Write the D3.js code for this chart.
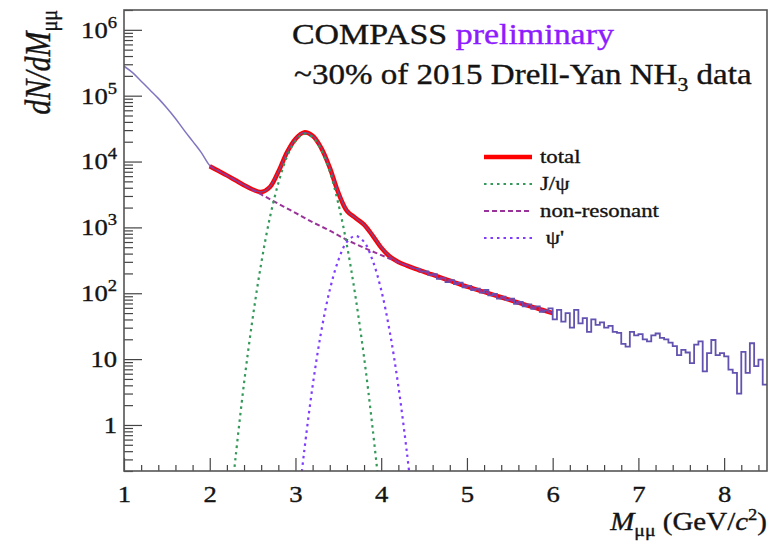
<!DOCTYPE html>
<html>
<head>
<meta charset="utf-8">
<script src="https://cdn.jsdelivr.net/npm/d3@7"></script>
<style>
  body { margin: 0; background: #fff; }
  svg { display: block; }
  text { font-family: "Liberation Serif", "Times New Roman", serif; fill: #141414; stroke: #141414; stroke-width: 0.35px; }
</style>
</head>
<body>
<div id="chart"></div>
<script>
// measured data, smooth low-mass part (GeV/c^2, dN/dM)
const smoothMass = [1.0, 1.1, 1.2, 1.3, 1.4, 1.5, 1.6, 1.7, 1.8, 1.9,
  2.0, 2.1, 2.2, 2.3, 2.4, 2.5, 2.6, 2.7, 2.8, 2.9, 3.0, 3.1, 3.2, 3.3, 3.4,
  3.5, 3.6, 3.7, 3.8, 3.9, 4.0, 4.1, 4.2, 4.3, 4.4];
const smoothCounts = [280000, 224000, 166000, 123000, 91000, 65000, 45000, 30000, 20400, 13800,
  8700, 7200, 6100, 5200, 4400, 3750, 3450, 4100, 7000, 13600, 22000, 27500, 24500, 16200, 8100,
  3400, 1800, 1400, 1100, 760, 500, 365, 300, 265, 235];

// measured data, binned high-mass part (0.05 GeV bins from 4.4)
const binStart = 4.4;
const binWidth = 0.05;
const binCounts = [234, 214, 214, 191, 195, 166, 170, 148, 158, 138,
  145, 123, 129, 112, 117, 102, 112, 93, 98, 83,
  89, 79, 83, 69, 74, 63, 68, 58, 63, 52,
  55, 59, 40, 56, 37, 50, 30, 56, 35, 42,
  26, 40, 33, 36, 30, 32, 26, 25, 17, 15.5,
  26, 23, 24, 20, 18.6, 23, 24.5, 21, 20, 17.8,
  15.8, 11.5, 13.8, 12.6, 8.7, 16.6, 18.6, 6.5, 12.3, 19.5,
  11.5, 12.3, 11, 6.9, 6.2, 3.0, 12.9, 6.2, 17.4, 7.8,
  9.8, 4.1];

// fit: total
const totalMass = [2.0, 2.1, 2.2, 2.3, 2.4, 2.5, 2.6, 2.7, 2.8, 2.9, 3.0, 3.1, 3.2, 3.3, 3.4,
  3.5, 3.6, 3.7, 3.8, 3.9, 4.0, 4.1, 4.2, 4.3, 4.4, 4.6, 4.8, 5.0, 5.2, 5.4, 5.6, 5.8, 6.0];
const totalValues = [8510, 7240, 6170, 5190, 4374, 3761, 3442, 4070, 6970, 13700, 22060, 27710, 24600, 16160, 8083,
  3365, 1786, 1392, 1104, 749, 492, 361, 299, 263, 234, 191, 155, 126, 105, 87, 72, 60, 50];

// fit: J/psi
const jpsiMass = [2.25, 2.3, 2.4, 2.5, 2.6, 2.7, 2.8, 2.9, 3.0, 3.1, 3.2, 3.3, 3.4, 3.5, 3.6, 3.7, 3.8, 3.9, 4.0];
const jpsiValues = [0.074, 0.31, 4.3, 41, 282, 1380, 4680, 11750, 20400, 26300, 23400, 15100, 7080, 2290, 537, 89, 10.7, 0.89, 0.055];

// fit: non-resonant
const nonresMass = [2.0, 2.2, 2.4, 2.6, 2.8, 3.0, 3.2, 3.4, 3.6, 3.8, 4.0, 4.2, 4.4, 4.6, 4.8, 5.0, 5.2, 5.4, 5.6, 5.8, 6.0];
const nonresValues = [8510, 6170, 4370, 3160, 2290, 1660, 1200, 891, 646, 490, 380, 295, 234, 191, 155, 126, 105, 87, 72, 60, 50];

// fit: psi'
const psiMass = [3.05, 3.1, 3.2, 3.3, 3.4, 3.5, 3.6, 3.7, 3.8, 3.9, 4.0, 4.1, 4.2, 4.3, 4.35];
const psiValues = [0.10, 0.38, 3.9, 26, 112, 316, 603, 741, 603, 316, 112, 26, 3.9, 0.38, 0.10];

// axis ticks
const xMajorTicks = [1, 2, 3, 4, 5, 6, 7, 8];
const yMajorTicks = [1, 10, 100, 1e3, 1e4, 1e5, 1e6];
const legendLabels = ['total', 'J/\u03c8', 'non-resonant', ' \u03c8\''];

const width = 780;
const height = 546;
const frame = { left: 124, right: 767, top: 10, bottom: 471 };
const stretch = 1.16;

const colors = {
  data: '#6352b0',
  total: '#ff0000',
  jpsi: '#33995a',
  nonres: '#993399',
  psi: '#7f3cff',
  preliminary: '#8e1cff'
};

const svg = d3.select('#chart').append('svg')
  .attr('width', width)
  .attr('height', height);

svg.append('rect').attr('width', width).attr('height', height).attr('fill', '#fff');

const scaleX = d3.scaleLinear().domain([1, 8.5]).range([frame.left, frame.right]);
const scaleY = d3.scaleLog().domain([0.2, 2e6]).range([frame.bottom, frame.top]);

svg.append('clipPath').attr('id', 'plot-clip')
  .append('rect')
  .attr('x', frame.left).attr('y', frame.top)
  .attr('width', frame.right - frame.left)
  .attr('height', frame.bottom - frame.top);

const groupPlot = svg.append('g').attr('clip-path', 'url(#plot-clip)');

const lineSmooth = d3.line()
  .x(d => scaleX(d[0]))
  .y(d => scaleY(d[1]))
  .curve(d3.curveCatmullRom.alpha(0.5));

const lineStep = d3.line()
  .x(d => scaleX(d[0]))
  .y(d => scaleY(d[1]))
  .curve(d3.curveStepAfter);

const zip = (xs, ys) => xs.map((x, i) => [x, ys[i]]);

// total fit (under data)
groupPlot.append('path')
  .attr('d', lineSmooth(zip(totalMass, totalValues)))
  .attr('fill', 'none')
  .attr('stroke', colors.total)
  .attr('stroke-width', 4.5)
  .attr('stroke-linejoin', 'round');

// data
groupPlot.append('path')
  .attr('d', d3.line().x(d => scaleX(d[0])).y(d => scaleY(d[1])).curve(d3.curveMonotoneX)(zip(smoothMass, smoothCounts)))
  .attr('fill', 'none')
  .attr('stroke', colors.data)
  .attr('stroke-opacity', 0.8)
  .attr('stroke-width', 1.5);

const binPoints = binCounts.map((c, i) => [binStart + i * binWidth, c]);
binPoints.push([binStart + binCounts.length * binWidth, binCounts[binCounts.length - 1]]);

groupPlot.append('path')
  .attr('d', lineStep(binPoints))
  .attr('fill', 'none')
  .attr('stroke', colors.data)
  .attr('stroke-width', 1.8);

// components
groupPlot.append('path')
  .attr('d', lineSmooth(zip(nonresMass, nonresValues)))
  .attr('fill', 'none')
  .attr('stroke', colors.nonres)
  .attr('stroke-width', 2)
  .attr('stroke-dasharray', '5,3');

groupPlot.append('path')
  .attr('d', lineSmooth(zip(jpsiMass, jpsiValues)))
  .attr('fill', 'none')
  .attr('stroke', colors.jpsi)
  .attr('stroke-width', 2.2)
  .attr('stroke-dasharray', '2.5,4');

groupPlot.append('path')
  .attr('d', lineSmooth(zip(psiMass, psiValues)))
  .attr('fill', 'none')
  .attr('stroke', colors.psi)
  .attr('stroke-width', 2.2)
  .attr('stroke-dasharray', '2.5,4');

// axes
const styleAxis = g => {
  g.select('.domain').remove();
  g.selectAll('.tick line').attr('stroke', '#444').attr('stroke-width', 1.2);
  g.attr('font-family', null).attr('font-size', 23);
};

const xMinorTicks = d3.range(1, 8.5, 0.2).filter(v => Math.abs(v - Math.round(v)) > 1e-6);
const yMinorTicks = d3.range(-1, 7).flatMap(p => d3.range(2, 10).map(m => m * Math.pow(10, p)))
  .filter(v => v >= 0.2 && v <= 2e6);

svg.append('g')
  .attr('transform', `translate(0,${frame.bottom})`)
  .call(d3.axisBottom(scaleX).tickValues(xMinorTicks).tickSize(-6).tickFormat(''))
  .call(styleAxis);

const groupAxisX = svg.append('g')
  .attr('transform', `translate(0,${frame.bottom})`)
  .call(d3.axisBottom(scaleX).tickValues(xMajorTicks).tickSize(-13).tickPadding(15).tickFormat(d3.format('d')))
  .call(styleAxis);

groupAxisX.selectAll('.tick text')
  .attr('fill', '#141414')
  .attr('transform', `scale(${stretch},1)`);

svg.append('g')
  .attr('transform', `translate(${frame.left},0)`)
  .call(d3.axisLeft(scaleY).tickValues(yMinorTicks).tickSize(-9).tickFormat(''))
  .call(styleAxis);

const groupAxisY = svg.append('g')
  .attr('transform', `translate(${frame.left},0)`)
  .call(d3.axisLeft(scaleY).tickValues(yMajorTicks).tickSize(-18).tickPadding(6).tickFormat(''))
  .call(styleAxis);

groupAxisY.selectAll('.tick text')
  .attr('fill', '#141414')
  .attr('transform', `scale(${stretch},1)`)
  .each(function (d) {
    const t = d3.select(this);
    const p = Math.round(Math.log10(d));
    if (p < 2) {
      t.text(String(d));
    } else {
      t.append('tspan').text('10');
      t.append('tspan').attr('font-size', 16).attr('dy', -10).text(p);
    }
  });

// frame
svg.append('rect')
  .attr('x', frame.left).attr('y', frame.top)
  .attr('width', frame.right - frame.left)
  .attr('height', frame.bottom - frame.top)
  .attr('fill', 'none')
  .attr('stroke', '#555')
  .attr('stroke-width', 1.6);

// axis titles
const titleY = svg.append('text')
  .attr('transform', `translate(50,${frame.top}) rotate(-90) scale(1,${stretch})`)
  .attr('text-anchor', 'end')
  .style('font-size', '30px');
titleY.append('tspan').style('font-style', 'italic').text('dN/dM');
titleY.append('tspan').style('font-size', '20px').attr('dy', 6).text('\u03bc\u03bc');

const titleX = svg.append('text')
  .attr('transform', `translate(${frame.right},530) scale(${stretch},1)`)
  .attr('text-anchor', 'end')
  .style('font-size', '25px');
titleX.append('tspan').style('font-style', 'italic').text('M');
titleX.append('tspan').style('font-size', '17px').attr('dy', 6).text('\u03bc\u03bc');
titleX.append('tspan').attr('dy', -6).text(' (GeV/');
titleX.append('tspan').style('font-style', 'italic').text('c');
titleX.append('tspan').style('font-size', '16px').attr('dy', -10).text('2');
titleX.append('tspan').attr('dy', 10).text(')');

// header text
const header1 = svg.append('text')
  .attr('transform', `translate(292,44) scale(1.17,1)`)
  .style('font-size', '29px');
header1.append('tspan').text('COMPASS ');
header1.append('tspan')
  .style('fill', colors.preliminary)
  .style('stroke', colors.preliminary)
  .text('preliminary');

const header2 = svg.append('text')
  .attr('transform', `translate(294,84) scale(1.14,1)`)
  .style('font-size', '29px');
header2.append('tspan').text('~30% of 2015 Drell-Yan NH');
header2.append('tspan').style('font-size', '19px').attr('dy', 7).text('3');
header2.append('tspan').attr('dy', -7).text(' data');

// legend
const legendRows = [
  { color: colors.total, width: 4.5, dash: null },
  { color: colors.jpsi, width: 2.2, dash: '2.5,4' },
  { color: colors.nonres, width: 2, dash: '5,3' },
  { color: colors.psi, width: 2.2, dash: '2.5,4' }
];
const legendY = [157, 184, 211, 238];

const groupLegend = svg.append('g');
legendRows.forEach((row, i) => {
  groupLegend.append('line')
    .attr('x1', 484).attr('x2', 532)
    .attr('y1', legendY[i]).attr('y2', legendY[i])
    .attr('stroke', row.color)
    .attr('stroke-width', row.width)
    .attr('stroke-dasharray', row.dash);
  groupLegend.append('text')
    .attr('transform', `translate(540,${legendY[i] + 6}) scale(1.2,1)`)
    .style('font-size', '19px')
    .style('white-space', 'pre')
    .text(legendLabels[i]);
});
</script>
</body>
</html>
